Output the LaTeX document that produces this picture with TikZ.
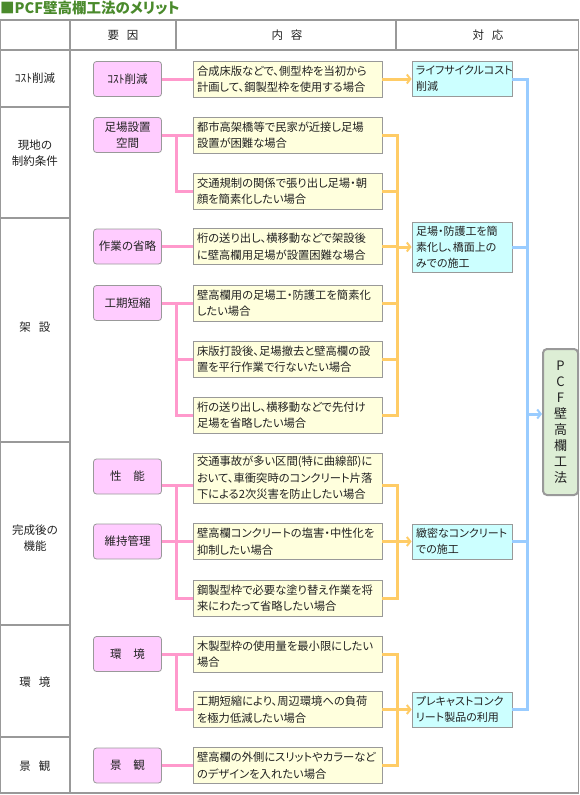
\documentclass[tikz,border=0pt]{standalone}
\usepackage{fontspec}
\setmainfont{Noto Sans CJK JP}[RawFeature=+palt]
\usepackage{tikz}
\usetikzlibrary{arrows.meta,calc}
\definecolor{pinkfill}{HTML}{FFCCFF}
\definecolor{pinkline}{HTML}{FF99CC}
\definecolor{yelfill}{HTML}{FFFFDD}
\definecolor{orgline}{HTML}{FFCC66}
\definecolor{cyanfill}{HTML}{CCFFFF}
\definecolor{blueline}{HTML}{99CCFF}
\definecolor{pcffill}{HTML}{DDEED5}
\definecolor{rulegray}{HTML}{999999}
\definecolor{titlegreen}{HTML}{4A8A2C}
\definecolor{txt}{HTML}{222222}

\begin{document}
\begin{tikzpicture}[x=1pt,y=-1pt,
    grid/.style={draw=rulegray,line width=1.4pt},
    factor/.style={draw=rulegray,fill=pinkfill,rounded corners=3pt,line width=0.8pt,
      minimum width=68pt,minimum height=35pt,align=center,text=txt,
      font=\fontsize{11.5}{16}\selectfont},
    case/.style={draw=rulegray,fill=yelfill,line width=0.8pt,text width=181pt,inner xsep=4pt,
      inner ysep=1pt,minimum height=36pt,align=left,text=txt,
      font=\fontsize{11.3}{16.5}\selectfont},
    answer/.style={draw=rulegray,fill=cyanfill,line width=0.8pt,text width=92pt,inner xsep=4pt,
      inner ysep=1pt,minimum height=35pt,align=left,text=txt,
      font=\fontsize{11}{16}\selectfont},
    rowlab/.style={align=center,text=txt,font=\fontsize{11.5}{16}\selectfont},
    pline/.style={draw=pinkline,line width=3pt},
    oline/.style={draw=orgline,line width=3pt},
    bline/.style={draw=blueline,line width=3pt},
    tip/.style={-{Straight Barb[length=3.5pt,width=9pt,line width=2pt]}}]
  \useasboundingbox (0,0) rectangle (580,795);

  % Parameters
  \def\pc{127.5}      % centre of factor boxes
  \def\yc{287.5}      % centre of case boxes
  \def\cc{462}        % centre of answer boxes
  \def\px{176}        % pink joint
  \def\ox{397}        % orange joint
  \def\bx{527}        % blue joint

  \coordinate (pjoin) at (\px,0);
  \coordinate (ojoin) at (\ox,0);
  \coordinate (bjoin) at (\bx,0);

  % Title
  \node[anchor=west,inner sep=0pt,text=titlegreen,font=\fontsize{14.5}{16}\selectfont\bfseries]
    (title) at (0,8) {■PCF壁高欄工法のメリット};

  % Table
  \draw[grid] (0,20) rectangle (578.5,793);
  \draw[grid] (0,50) -- (578.5,50);
  \draw[grid] (70,20) -- (70,793);
  \draw[grid] (176,20) -- (176,50);
  \draw[grid] (396,20) -- (396,50);
  \foreach \y in {107,218,442,625,737} {
    \draw[grid] (0,\y) -- (70,\y);
  }

  % Header
  \node[rowlab] (h1) at (123,35) {要\hspace{8pt}因};
  \node[rowlab] (h2) at (287,35) {内\hspace{8pt}容};
  \node[rowlab] (h3) at (488,35) {対\hspace{8pt}応};

  % Row labels
  \node[rowlab] (r1) at (35,78) {ｺｽﾄ削減};
  \node[rowlab] (r2) at (35,153) {現地の\\制約条件};
  \node[rowlab] (r3) at (35,327) {架\hspace{8pt}設};
  \node[rowlab] (r4) at (35,538) {完成後の\\機能};
  \node[rowlab] (r5) at (35,682) {環\hspace{8pt}境};
  \node[rowlab] (r6) at (35,766) {景\hspace{8pt}観};

  % Factors
  \node[factor] (pk1) at (\pc,79) {ｺｽﾄ削減};
  \node[factor] (pk2) at (\pc,135) {足場設置\\空間};
  \node[factor] (pk3) at (\pc,246.5) {作業の省略};
  \node[factor] (pk4) at (\pc,303) {工期短縮};
  \node[factor] (pk5) at (\pc,476.5) {性\hspace{12pt}能};
  \node[factor] (pk6) at (\pc,541.5) {維持管理};
  \node[factor] (pk7) at (\pc,654) {環\hspace{12pt}境};
  \node[factor] (pk8) at (\pc,765.5) {景\hspace{12pt}観};

  % Cases
  \node[case] (y1) at (\yc,79) {合成床版などで、側型枠を当初から\\計画して、鋼製型枠を使用する場合};
  \node[case] (y2) at (\yc,135) {都市高架橋等で民家が近接し足場\\設置が困難な場合};
  \node[case] (y3) at (\yc,191) {交通規制の関係で張り出し足場・朝\\顔を簡素化したい場合};
  \node[case] (y4) at (\yc,246.5) {桁の送り出し、横移動などで架設後\\に壁高欄用足場が設置困難な場合};
  \node[case] (y5) at (\yc,303) {壁高欄用の足場工・防護工を簡素化\\したい場合};
  \node[case] (y6) at (\yc,359) {床版打設後、足場撤去と壁高欄の設\\置を平行作業で行ないたい場合};
  \node[case] (y7) at (\yc,415) {桁の送り出し、横移動などで先付け\\足場を省略したい場合};
  \node[case,minimum height=50pt] (y8) at (\yc,478) {交通事故が多い区間(特に曲線部)に\\おいて、車衝突時のコンクリート片落\\下による2次災害を防止したい場合};
  \node[case] (y9) at (\yc,541.5) {壁高欄コンクリートの塩害・中性化を\\抑制したい場合};
  \node[case] (y10) at (\yc,598) {鋼製型枠で必要な塗り替え作業を将\\来にわたって省略したい場合};
  \node[case] (y11) at (\yc,654) {木製型枠の使用量を最小限にしたい\\場合};
  \node[case] (y12) at (\yc,709.5) {工期短縮により、周辺環境への負荷\\を極力低減したい場合};
  \node[case] (y13) at (\yc,765.5) {壁高欄の外側にスリットやカラーなど\\のデザインを入れたい場合};

  % Answers
  \node[answer] (c1) at (\cc,79) {ライフサイクルコスト\\削減};
  \node[answer,minimum height=50pt] (c2) at (\cc,247) {足場・防護工を簡\\素化し、橋面上の\\みでの施工};
  \node[answer] (c3) at (\cc,541.5) {緻密なコンクリート\\での施工};
  \node[answer] (c4) at (\cc,709.5) {プレキャストコンク\\リート製品の利用};

  % PCF box
  \node[draw=rulegray,fill=pcffill,line width=2pt,rounded corners=4pt,minimum width=35pt,
    minimum height=146pt,align=center,text=txt,font=\fontsize{13}{16}\selectfont]
    (pcf) at (560.5,422) {P\\C\\F\\壁\\高\\欄\\工\\法};

  % Pink connectors
  \coordinate (k8) at (0,485);
  \draw[pline] (pk1) -- (y1);
  \draw[pline] (pk2.east) -- (y2.west);
  \draw[pline] (pk2.east -| pjoin) |- (y3.west);
  \draw[pline] (pk3) -- (y4);
  \draw[pline] (pk4.east) -- (y5.west);
  \draw[pline] (pk4.east -| pjoin) |- (y7.west);
  \draw[pline] (y6.west -| pjoin) -- (y6.west);
  \draw[pline] (pk5.east |- k8) -- (y8.west |- k8);
  \draw[pline] (k8 -| pjoin) |- (y10.west);
  \draw[pline] (pk6) -- (y9);
  \draw[pline] (pk7.east) -- (y11.west);
  \draw[pline] (pk7.east -| pjoin) |- (y12.west);
  \draw[pline] (pk8) -- (y13);

  % Orange connectors
  \draw[oline,tip] (y1) -- (c1);
  \draw[oline] (y2.east) -| (y7.east -| ojoin) -- (y7.east);
  \foreach \b in {y3,y4,y5,y6} {
    \draw[oline] (\b.east) -- (\b.east -| ojoin);
  }
  \draw[oline,tip] (c2.west -| ojoin) -- (c2.west);
  \draw[oline] (y8.east |- k8) -| (y10.east -| ojoin) -- (y10.east);
  \draw[oline] (y9.east) -- (y9.east -| ojoin);
  \draw[oline,tip] (c3.west -| ojoin) -- (c3.west);
  \draw[oline] (y11.east) -| (y13.east -| ojoin) -- (y13.east);
  \draw[oline] (y12.east) -- (y12.east -| ojoin);
  \draw[oline,tip] (c4.west -| ojoin) -- (c4.west);

  % Blue connectors
  \draw[bline] (c1.east) -| (c4.east -| bjoin) -- (c4.east);
  \draw[bline] (c2.east) -- (c2.east -| bjoin);
  \draw[bline] (c3.east) -- (c3.east -| bjoin);
  \draw[bline,tip] ([yshift=8pt]pcf.west -| bjoin) -- ([yshift=8pt]pcf.west);
\end{tikzpicture}
\end{document}
